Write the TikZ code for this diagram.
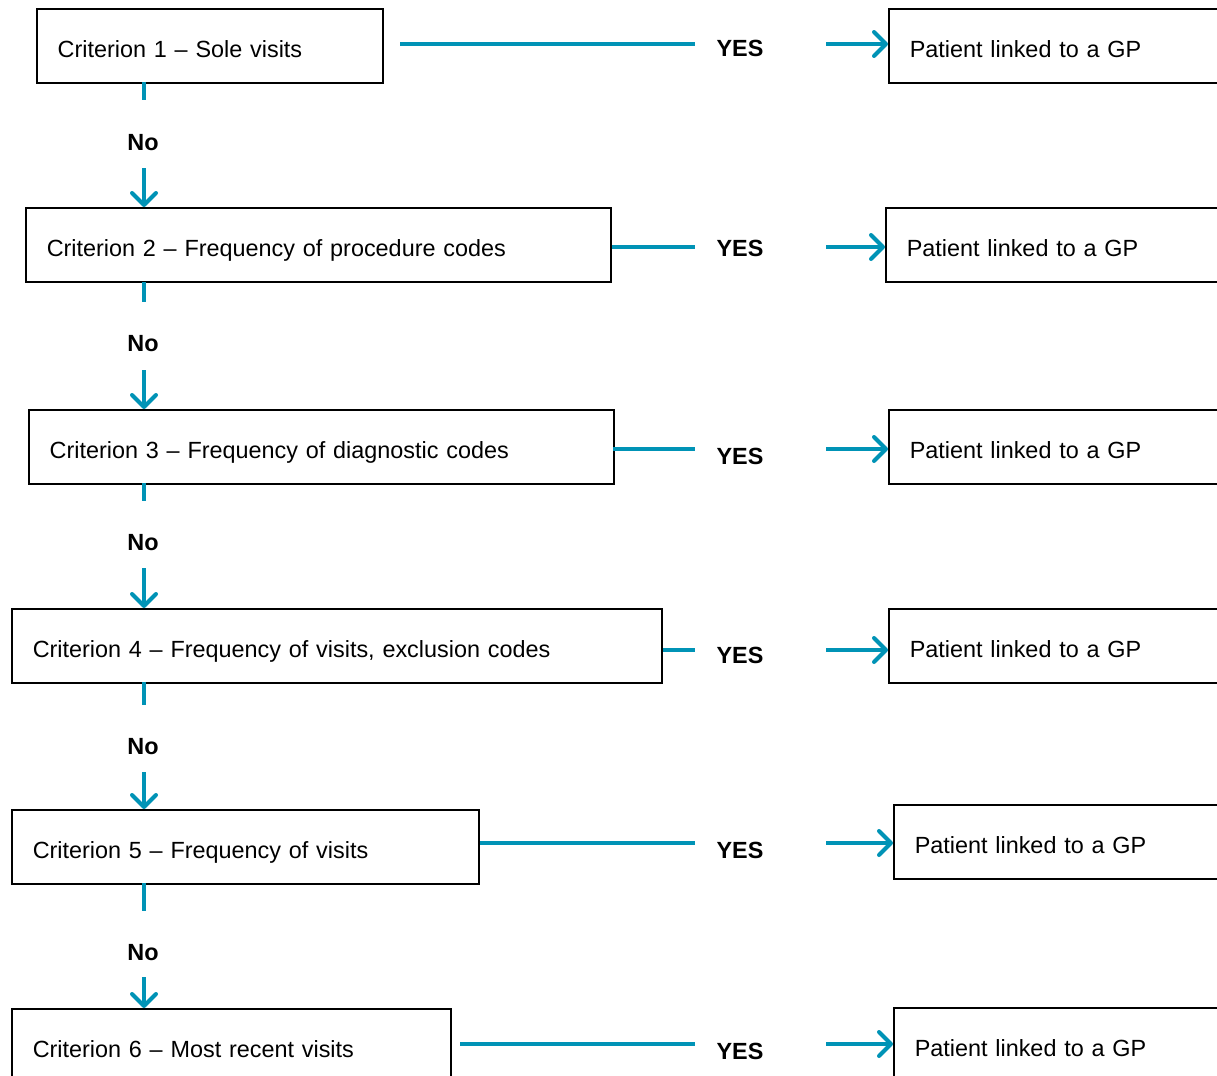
\documentclass[tikz,border=0pt]{standalone}
\usepackage{fontspec}
\setmainfont{Liberation Sans}
\usetikzlibrary{arrows.meta}
\definecolor{tealc}{HTML}{0093B6}
\begin{document}
\begin{tikzpicture}[x=0.5pt,y=-0.5pt,
  crit/.style={draw=black, line width=0.75pt, anchor=north west, minimum height=37pt,
    inner xsep=10.5pt, inner ysep=0pt, text height=11.4pt, text depth=0pt,
    align=left, font=\fontsize{11.7}{13}\selectfont},
  res/.style={crit, text width=160pt},
  lbl/.style={font=\bfseries\fontsize{11.7}{13}\selectfont, inner sep=1pt},
  conn/.style={draw=tealc, line width=2pt},
  arr/.style={conn, -{Straight Barb[length=6pt,width=12pt,line cap=round,line join=round]}}
]
\useasboundingbox (0,0) rectangle (1217,1076);
\clip (0,0) rectangle (1217,1076);
\fill[white] (0,0) rectangle (1217,1076);

% criterion boxes
\node[crit, text width=152pt]   (c1) at (36,8)    {Criterion 1 -- Sole visits};
\node[crit, text width=271.5pt] (c2) at (25,207)  {Criterion 2 -- Frequency of procedure codes};
\node[crit, text width=271.5pt] (c3) at (28,409)  {Criterion 3 -- Frequency of diagnostic codes};
\node[crit, text width=304pt]   (c4) at (11,608)  {Criterion 4 -- Frequency of visits, exclusion codes};
\node[crit, text width=212.5pt] (c5) at (11,809)  {Criterion 5 -- Frequency of visits};
\node[crit, text width=198.5pt] (c6) at (11,1008) {Criterion 6 -- Most recent visits};

% result boxes
\node[res] (r1) at (888,8)    {Patient linked to a GP};
\node[res] (r2) at (885,207)  {Patient linked to a GP};
\node[res] (r3) at (888,409)  {Patient linked to a GP};
\node[res] (r4) at (888,608)  {Patient linked to a GP};
\node[res] (r5) at (893,804)  {Patient linked to a GP};
\node[res] (r6) at (893,1007) {Patient linked to a GP};

% YES labels
\node[lbl] (y1) at (740,48)   {YES};
\node[lbl] (y2) at (740,248)  {YES};
\node[lbl] (y3) at (740,456)  {YES};
\node[lbl] (y4) at (740,655)  {YES};
\node[lbl] (y5) at (740,850)  {YES};
\node[lbl] (y6) at (740,1051) {YES};

% No labels
\node[lbl] (n1) at (143,143) {No};
\node[lbl] (n2) at (143,344) {No};
\node[lbl] (n3) at (143,543) {No};
\node[lbl] (n4) at (143,747) {No};
\node[lbl] (n5) at (143,953) {No};

% horizontal YES connectors
\coordinate (h1a) at (400,44);  \coordinate (h1b) at (695,44);  \coordinate (h1c) at (826,44);
\coordinate (h2a) at (612,247); \coordinate (h2b) at (695,247); \coordinate (h2c) at (826,247);
\coordinate (h3a) at (613,449); \coordinate (h3b) at (695,449); \coordinate (h3c) at (826,449);
\coordinate (h4a) at (663,650); \coordinate (h4b) at (695,650); \coordinate (h4c) at (826,650);
\coordinate (h5a) at (480,843); \coordinate (h5b) at (695,843); \coordinate (h5c) at (826,843);
\coordinate (h6a) at (460,1044);\coordinate (h6b) at (695,1044);\coordinate (h6c) at (826,1044);

\foreach \i in {1,...,6}{
  \draw[conn] (h\i a) -- (h\i b);
  \draw[arr] (h\i c) -- (h\i c -| r\i.west);
}

% vertical No connectors
\coordinate (v1a) at (144,82);  \coordinate (v1b) at (144,100); \coordinate (v1c) at (144,168);
\coordinate (v2a) at (144,282); \coordinate (v2b) at (144,302); \coordinate (v2c) at (144,370);
\coordinate (v3a) at (144,483); \coordinate (v3b) at (144,501); \coordinate (v3c) at (144,568);
\coordinate (v4a) at (144,682); \coordinate (v4b) at (144,705); \coordinate (v4c) at (144,772);
\coordinate (v5a) at (144,883); \coordinate (v5b) at (144,911); \coordinate (v5c) at (144,977);

\draw[conn] (v1a) -- (v1b); \draw[arr] (v1c) -- (v1c |- c2.north);
\draw[conn] (v2a) -- (v2b); \draw[arr] (v2c) -- (v2c |- c3.north);
\draw[conn] (v3a) -- (v3b); \draw[arr] (v3c) -- (v3c |- c4.north);
\draw[conn] (v4a) -- (v4b); \draw[arr] (v4c) -- (v4c |- c5.north);
\draw[conn] (v5a) -- (v5b); \draw[arr] (v5c) -- (v5c |- c6.north);
\end{tikzpicture}
\end{document}
